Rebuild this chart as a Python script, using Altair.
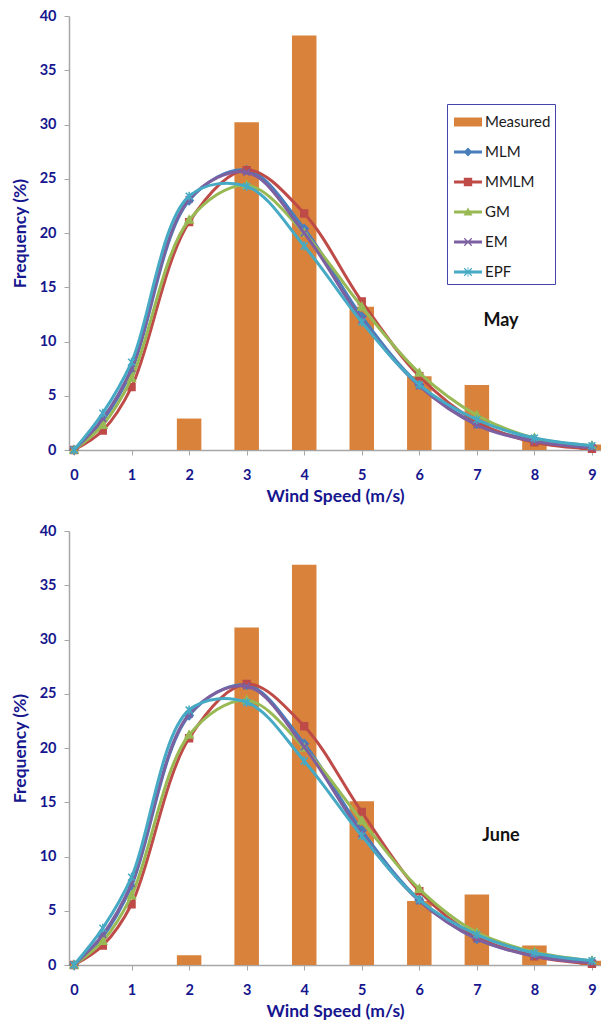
import altair as alt
import pandas as pd

# ---------------- data ----------------
bar_speeds = [2, 3, 4, 5, 6, 7, 8, 9]
may_measured = [2.9, 30.2, 38.2, 13.2, 6.8, 6.0, 0.9, 0.5]
june_measured = [0.9, 31.1, 36.9, 15.1, 5.9, 6.5, 1.8, 0.4]

fit_speeds = [0, 0.5, 1, 2, 3, 4, 5, 6, 7, 8, 9]
may_mlm = [0, 2.7, 7.3, 23.0, 25.8, 20.4, 12.3, 6.0, 2.4, 0.9, 0.3]
may_mmlm = [0, 1.8, 5.8, 21.0, 25.8, 21.8, 13.7, 6.8, 2.6, 0.7, 0.1]
may_gm = [0, 2.3, 6.6, 21.2, 24.4, 20.0, 13.2, 7.1, 3.2, 1.1, 0.4]
may_em = [0, 2.9, 7.5, 23.1, 25.6, 20.0, 12.0, 5.9, 2.3, 0.8, 0.2]
may_epf = [0, 3.4, 8.1, 23.4, 24.3, 18.8, 11.8, 6.0, 2.8, 1.1, 0.4]

june_mlm = [0, 2.6, 7.3, 23.0, 25.8, 20.4, 12.4, 6.0, 2.4, 0.9, 0.3]
june_mmlm = [0, 1.8, 5.6, 20.9, 25.9, 22.0, 14.1, 6.8, 2.6, 0.8, 0.1]
june_gm = [0, 2.2, 6.4, 21.2, 24.4, 20.0, 13.3, 7.0, 3.0, 1.2, 0.4]
june_em = [0, 2.8, 7.5, 23.1, 25.7, 20.1, 12.1, 5.9, 2.4, 0.8, 0.2]
june_epf = [0, 3.4, 8.1, 23.5, 24.2, 18.8, 11.9, 6.0, 2.8, 1.1, 0.4]

series_names = ["MLM", "MMLM", "GM", "EM", "EPF"]
legend_entries = ["Measured", "MLM", "MMLM", "GM", "EM", "EPF"]
month_labels = ["May", "June"]
month_label_pos = [7.42, 11.9]  # data coords (speed, frequency)

y_ticks = [0, 5, 10, 15, 20, 25, 30, 35, 40]
x_ticks = [0, 1, 2, 3, 4, 5, 6, 7, 8, 9]

# ---------------- styles ----------------
BAR_COLOR = "#D8823C"
SERIES_COLORS = ["#4A7EBB", "#BE4B48", "#98B954", "#7D60A0", "#46AAC5"]
NAVY = "#16168E"
AXIS_GRAY = "#A6A6A6"
FONT = "Lato"

MARKERS = [
    "M0,-1.2L1.2,0L0,1.2L-1.2,0Z",
    "M-1,-1H1V1H-1Z",
    "M0,-1.2L1.15,0.9H-1.15Z",
    "M-1,-1L1,1M-1,1L1,-1",
    "M-1,-1L1,1M-1,1L1,-1M0,-1.3L0,1.3",
]

LINE = "M-1,-0.1H1V0.1H-1Z "
XQ = "M-0.3,-0.24L-0.24,-0.3L0.3,0.24L0.24,0.3Z M-0.24,0.3L-0.3,0.24L0.24,-0.3L0.3,-0.24Z "
LEGEND_PATHS = [
    "M-1,-0.32H1V0.32H-1Z",
    LINE + "M0,-0.32L0.32,0L0,0.32L-0.32,0Z",
    LINE + "M-0.3,-0.3H0.3V0.3H-0.3Z",
    LINE + "M0,-0.32L0.32,0.25H-0.32Z",
    LINE + XQ,
    LINE + XQ + "M-0.03,-0.34H0.03V0.34H-0.03Z",
]

X_DOMAIN = [0, 9.07]
W, H = 532, 434


def panel(measured, fits, label):
    xscale = alt.Scale(domain=X_DOMAIN, nice=False, zero=False)
    yscale = alt.Scale(domain=[0, 40], nice=False)
    xaxis = alt.Axis(
        title="Wind Speed (m/s)", values=x_ticks, format="d", grid=False,
        tickSize=5, labelPadding=13, titlePadding=6,
        domainColor=AXIS_GRAY, tickColor=AXIS_GRAY, domainWidth=1.5,
        labelColor=NAVY, titleColor=NAVY, labelFont=FONT, titleFont=FONT,
        labelFontSize=14.5, titleFontSize=17.5, labelFontWeight="bold",
        titleFontWeight="bold", labelFlush=False,
    )
    yaxis = alt.Axis(
        title="Frequency (%)", values=y_ticks, format="d", grid=False,
        tickSize=5, labelPadding=8, titlePadding=10,
        domainColor=AXIS_GRAY, tickColor=AXIS_GRAY, domainWidth=1.5,
        labelColor=NAVY, titleColor=NAVY, labelFont=FONT, titleFont=FONT,
        labelFontSize=14.5, titleFontSize=17.5, labelFontWeight="bold",
        titleFontWeight="bold",
    )

    bars_df = pd.DataFrame({"speed": bar_speeds, "freq": measured})
    bars = alt.Chart(bars_df).mark_bar(color=BAR_COLOR, size=24.5, clip=True).encode(
        x=alt.X("speed:Q", scale=xscale, axis=xaxis),
        y=alt.Y("freq:Q", scale=yscale, axis=yaxis),
    )

    layers = [bars]
    for name, vals, col, mk in zip(series_names, fits, SERIES_COLORS, MARKERS):
        df = pd.DataFrame({"speed": fit_speeds, "freq": vals, "series": name})
        base = alt.Chart(df).encode(
            x=alt.X("speed:Q", scale=xscale, axis=xaxis),
            y=alt.Y("freq:Q", scale=yscale, axis=yaxis),
        )
        line = base.mark_line(interpolate="catmull-rom", strokeWidth=3, color=col)
        pts = base.mark_point(shape=mk, filled=True, color=col, stroke=col,
                              strokeWidth=1.6, size=46, opacity=1)
        layers += [line, pts]

    txt_df = pd.DataFrame({"speed": [month_label_pos[0]], "freq": [month_label_pos[1]],
                           "label": [label]})
    txt = alt.Chart(txt_df).mark_text(font=FONT, fontSize=18, fontWeight="bold",
                                      color="#111111").encode(
        x=alt.X("speed:Q", scale=xscale, axis=xaxis),
        y=alt.Y("freq:Q", scale=yscale, axis=yaxis),
        text="label:N",
    )
    layers.append(txt)

    leg_props = dict(
        orient="none", legendX=378, legendY=88, title=None,
        strokeColor="#4444AA", padding=4, symbolOffset=3, labelOffset=3,
        rowPadding=8, symbolSize=784, symbolOpacity=1, symbolStrokeWidth=0,
        labelFont=FONT, labelFontSize=15, labelColor="#1A1A1A",
        labelExpr="datum.label + '    '",
    )
    leg_df = pd.DataFrame({"entry": legend_entries})
    leg = alt.Chart(leg_df).mark_point(filled=True, opacity=0).encode(
        x=alt.value(0), y=alt.value(0),
        color=alt.Color("entry:N", sort=legend_entries,
                        scale=alt.Scale(domain=legend_entries,
                                        range=[BAR_COLOR] + SERIES_COLORS),
                        legend=alt.Legend(**leg_props)),
        shape=alt.Shape("entry:N", sort=legend_entries,
                        scale=alt.Scale(domain=legend_entries, range=LEGEND_PATHS),
                        legend=alt.Legend(**leg_props)),
    )
    layers.append(leg)
    return alt.layer(*layers).properties(width=W, height=H)


top = panel(may_measured, [may_mlm, may_mmlm, may_gm, may_em, may_epf], month_labels[0])
bottom = panel(june_measured, [june_mlm, june_mmlm, june_gm, june_em, june_epf], month_labels[1])

chart = alt.vconcat(top, bottom, spacing=18).properties(
    padding={"left": 3, "top": 0, "right": 0, "bottom": 0}
).configure_view(stroke=None)

chart.save("out.html", embed_options={"renderer": "svg", "actions": False})
